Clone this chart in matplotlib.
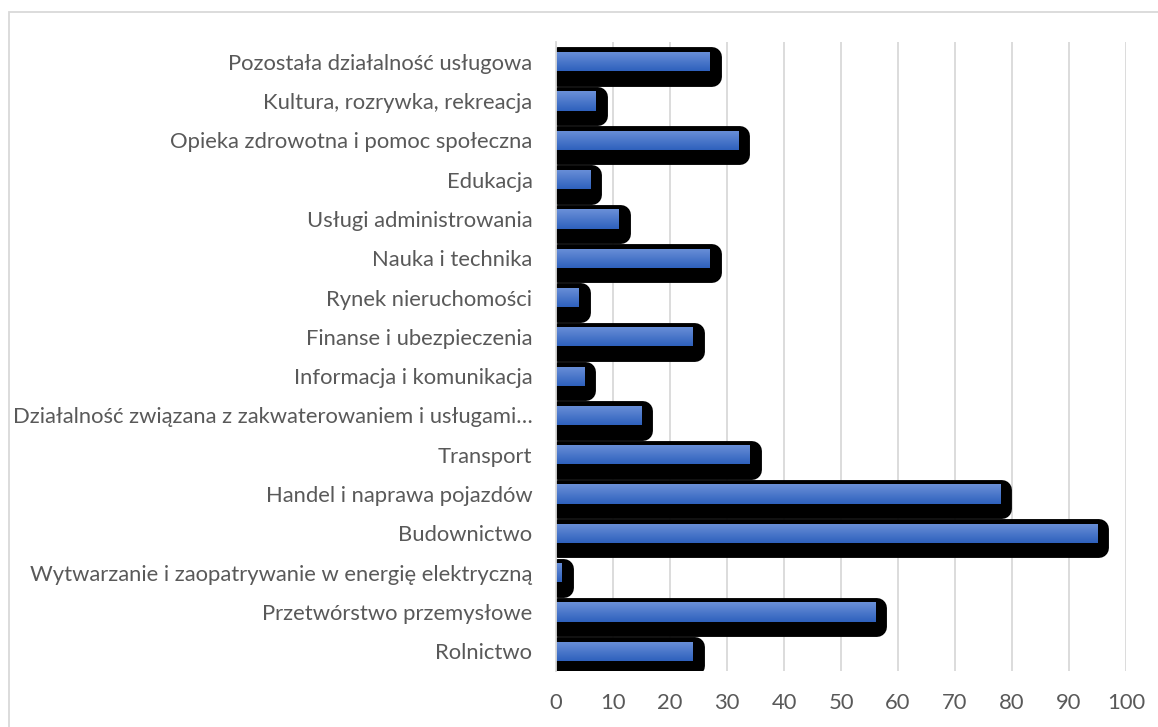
import numpy as np
import matplotlib
matplotlib.use("Agg")
import matplotlib.pyplot as plt
import matplotlib.patheffects as pe
from matplotlib.colors import LinearSegmentedColormap
from matplotlib.patches import Rectangle

#Categories from bottom to top
categories = [
    "Rolnictwo",
    "Przetwórstwo przemysłowe",
    "Wytwarzanie i zaopatrywanie w energię elektryczną",
    "Budownictwo",
    "Handel i naprawa pojazdów",
    "Transport",
    "Działalność związana z zakwaterowaniem i usługami…",
    "Informacja i komunikacja",
    "Finanse i ubezpieczenia",
    "Rynek nieruchomości",
    "Nauka i technika",
    "Usługi administrowania",
    "Edukacja",
    "Opieka zdrowotna i pomoc społeczna",
    "Kultura, rozrywka, rekreacja",
    "Pozostała działalność usługowa",
]
values = [24, 56, 1, 95, 78, 34, 15, 5, 24, 4, 27, 11, 6, 32, 7, 27]
xticks = list(range(0, 101, 10))

plt.rcParams["font.family"] = ["Lato", "DejaVu Sans"]
text_color = "#595959"
grid_color = "#D9D9D9"

fig = plt.figure(figsize=(11.58, 7.27), dpi=100)
ax = fig.add_axes([556 / 1158, 1 - 671 / 727, (1126 - 556) / 1158, (671 - 42) / 727])

#Bars with black rounded shadow
bar_h = 0.49
ypos = np.arange(len(categories))
bars = ax.barh(ypos, values, height=bar_h, color="#4472C4", zorder=3)
for b in bars:
    b.set_path_effects([
        pe.Stroke(offset=(1.3, -3.9), linewidth=14.3, foreground="black", joinstyle="round"),
        pe.Normal(),
    ])

#Vertical gradient on each bar
grad_cmap = LinearSegmentedColormap.from_list("bar", ["#6B90D8", "#2E61BD"])
grad = np.linspace(0, 1, 64).reshape(-1, 1)
for b, y, v in zip(bars, ypos, values):
    im = ax.imshow(grad, cmap=grad_cmap, aspect="auto", origin="upper",
                   extent=(0, v, y - bar_h / 2, y + bar_h / 2), zorder=4,
                   interpolation="bilinear")
    im.set_clip_path(b)

ax.set_xlim(0, 100)
ax.set_ylim(-0.5, len(categories) - 0.5)
ax.set_xticks(xticks)
ax.set_yticks(ypos)
ax.set_yticklabels(categories)
ax.grid(axis="x", color=grid_color, linewidth=1.3, zorder=0)
ax.set_axisbelow(True)
for s in ["top", "right", "bottom"]:
    ax.spines[s].set_visible(False)
ax.spines["left"].set_color(grid_color)
ax.spines["left"].set_linewidth(1.3)
ax.spines["left"].set_zorder(5)
ax.tick_params(axis="y", length=0, pad=17, labelsize=15.8, labelcolor=text_color)
ax.tick_params(axis="x", length=0, pad=16, labelsize=15.8, labelcolor=text_color)

#Chart border
fig.add_artist(Rectangle((9 / 1158, -0.1), 1.2, 1.1 - 12.5 / 727, transform=fig.transFigure,
                         fill=False, edgecolor=grid_color, linewidth=1.3, clip_on=False))

fig.savefig("out.png", dpi=100)
